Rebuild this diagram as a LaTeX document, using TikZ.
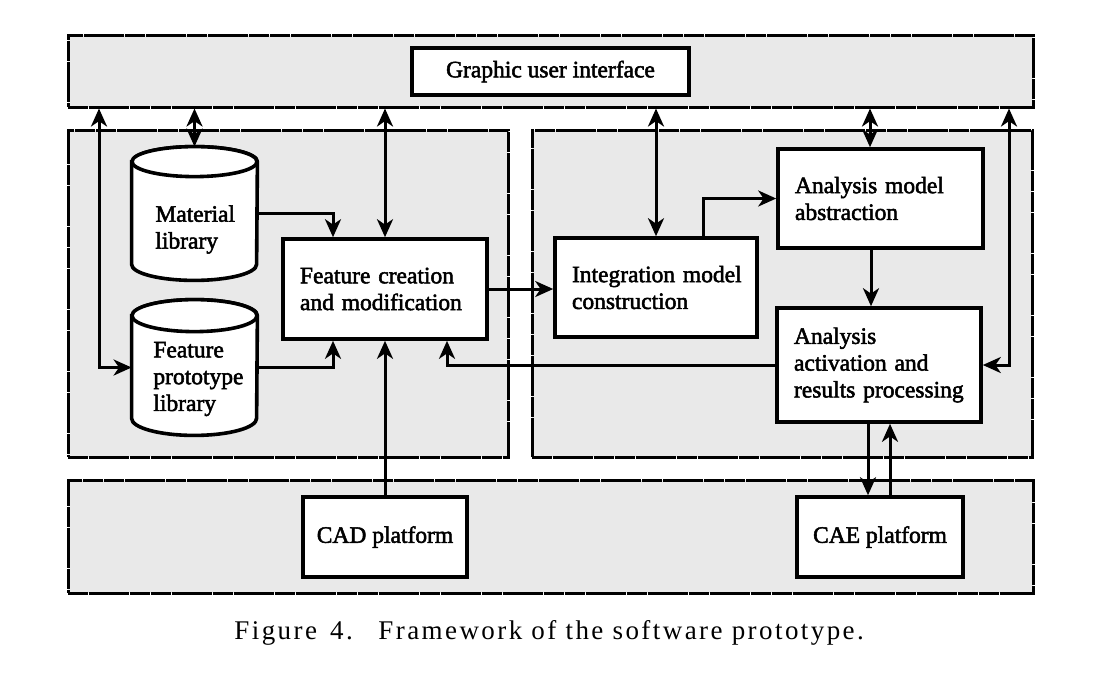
\documentclass[tikz,border=0pt]{standalone}
\usepackage{fontspec}
\setmainfont{Liberation Serif}
\newfontfamily\diafont{Liberation Serif}[FakeBold=2.2]
\newfontfamily\capfont{Liberation Serif}[LetterSpace=9]
\usetikzlibrary{arrows.meta,calc}
\definecolor{panelgray}{HTML}{E9E9E9}
\begin{document}
\begin{tikzpicture}[x=0.5pt,y=-0.5pt,
  panel/.style={draw, fill=panelgray, line width=1.5pt, dash pattern=on 10pt off 0.35pt, inner sep=0pt},
  dfont/.style={font=\diafont\fontsize{11.75}{13.4}\selectfont},
  box/.style={draw, fill=white, line width=1.8pt, inner sep=0pt, dfont},
  tbox/.style={box, align=left, text width=85pt, inner xsep=8.5pt},
  cylbody/.style={inner sep=0pt, minimum width=62.5pt},
  cylline/.style={draw, fill=white, line width=1.8pt},
  cyltext/.style={dfont, align=left, anchor=west, inner sep=0pt},
  captext/.style={anchor=base west, inner sep=0pt, font=\capfont\fontsize{13.5}{15}\selectfont},
  tip/.tip={Stealth[length=9pt,width=8pt,inset=2.7pt]},
  conn/.style={line width=1.5pt, -tip},
  dconn/.style={line width=1.5pt, tip-tip},
]
\fill[white] (0,0) rectangle (1097,677);
\path[use as bounding box] (0,0) rectangle (1097,677);

% panels
\node[panel, minimum width=482.5pt, minimum height=36pt] (tp) at (550.5,71) {};
\node[panel, minimum width=220pt, minimum height=163.5pt] (lp) at (288,293.5) {};
\node[panel, minimum width=250pt, minimum height=163.5pt] (rp) at (782,293.5) {};
\node[panel, minimum width=482.5pt, minimum height=56.5pt] (bp) at (550.5,536.5) {};

% boxes
\node[box, minimum width=138.5pt, minimum height=23.5pt] (gui) at (550.5,71.5) {Graphic user interface};
\node[tbox, minimum height=50pt] (fc) at (385,289) {Feature~creation\\and~modification};
\node[tbox, text width=84pt, minimum height=49.5pt] (im) at (656,287.5) {Integration~model\\construction};
\node[tbox, text width=85.5pt, minimum height=49.5pt] (abs) at (880.5,198.5) {Analysis~model\\abstraction};
\node[tbox, minimum height=57pt] (act) at (879,365) {Analysis\\activation~and\\results~processing};
\node[box, minimum width=82pt, minimum height=40pt] (cad) at (385,537) {CAD platform};
\node[box, minimum width=83pt, minimum height=40pt] (cae) at (880,537) {CAE platform};

% cylinders
\node[cylbody, minimum height=66.5pt] (ml) at (194.5,213.5) {};
\draw[cylline] ($(ml.north west)+(0,-7.5pt)$) -- ($(ml.south west)+(0,8pt)$)
  arc[start angle=180,end angle=360,x radius=31.25pt,y radius=8pt]
  -- ($(ml.north east)+(0,-7.5pt)$)
  arc[start angle=0,end angle=180,x radius=31.25pt,y radius=7.5pt] -- cycle;
\draw[cylline] ($(ml.north)+(0,-7.5pt)$) ellipse[x radius=31.25pt,y radius=7.5pt];
\node[cyltext] (mlt) at (155,229.5) {Material\\library};

\node[cylbody, minimum height=67.5pt] (fpl) at (194.5,367.5) {};
\draw[cylline] ($(fpl.north west)+(0,-8pt)$) -- ($(fpl.south west)+(0,8.5pt)$)
  arc[start angle=180,end angle=360,x radius=31.25pt,y radius=8.5pt]
  -- ($(fpl.north east)+(0,-8pt)$)
  arc[start angle=0,end angle=180,x radius=31.25pt,y radius=8pt] -- cycle;
\draw[cylline] ($(fpl.north)+(0,-8pt)$) ellipse[x radius=31.25pt,y radius=8pt];
\node[cyltext] (fplt) at (153,379) {Feature\\prototype\\library};

% x positions of vertical connector runs
\coordinate (xL) at (99,0);
\coordinate (xM) at (333,0);
\coordinate (xB) at (447,0);
\coordinate (xI) at (703,0);
\coordinate (xT) at (870,0);
\coordinate (xA) at (871,0);
\coordinate (xR) at (1009,0);
\coordinate (xD) at (868,0);
\coordinate (xU) at (890,0);

% connectors
\draw[dconn] (tp.south -| xL) |- (fpl.west);
\draw[dconn] (tp.south -| ml.north) -- (ml.north);
\draw[dconn] (tp.south -| fc.north) -- (fc.north);
\draw[conn] (ml.east) -| (fc.north -| xM);
\draw[conn] (fpl.east) -| (fc.south -| xM);
\draw[conn] (cad.north) -- (fc.south);
\draw[conn] (act.west) -| (fc.south -| xB);
\draw[conn] (fc.east) -- (fc.east -| im.west);
\draw[dconn] (tp.south -| im.north) -- (im.north);
\draw[conn] (im.north -| xI) |- (abs.west);
\draw[dconn] (tp.south -| xT) -- (abs.north -| xT);
\draw[conn] (abs.south -| xA) -- (act.north -| xA);
\draw[dconn] (tp.south -| xR) |- (act.east);
\draw[conn] (act.south -| xD) -- (cae.north -| xD);
\draw[conn] (cae.north -| xU) -- (act.south -| xU);

% caption
\node[captext] (capa) at (234,639) {Figure\hspace{2pt} 4.};
\node[captext] (capb) at (378,639) {Framework of the software prototype.};
\end{tikzpicture}
\end{document}
